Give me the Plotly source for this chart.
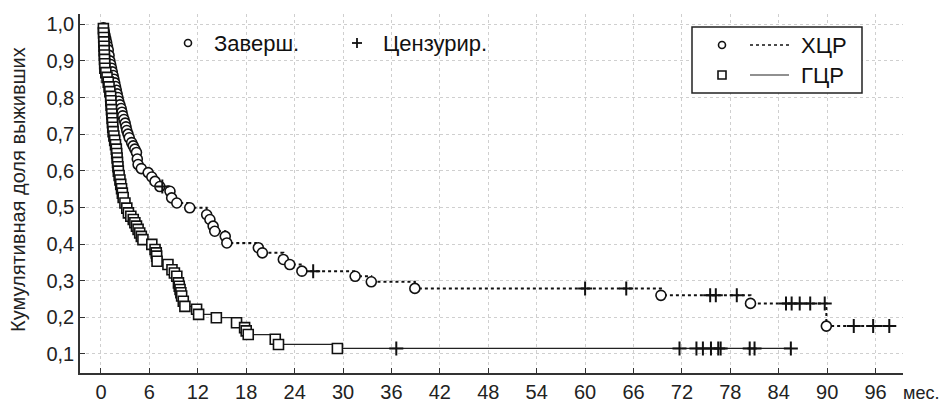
import plotly.graph_objects as go

# ---------------- data ----------------
month_ticks = list(range(0, 97, 6))
surv_ticks = [0.1, 0.2, 0.3, 0.4, 0.5, 0.6, 0.7, 0.8, 0.9, 1.0]

# ХЦР: event times (months) and survival after each event
hcr_event_t = [0.3, 0.4, 0.5, 0.6, 0.7, 0.8, 0.9, 1.0, 1.1, 1.2, 1.3, 1.4, 1.5, 1.6,
               1.7, 1.8, 1.9, 2.0, 2.1, 2.2, 2.35, 2.5, 2.6, 2.7, 2.85, 3.0, 3.1, 3.2,
               3.35, 3.5, 3.8, 4.0, 4.2, 4.4, 4.5, 4.6, 5.0, 5.85, 6.3, 6.7, 7.3, 8.55,
               8.76, 9.4, 11.0, 13.1, 13.5, 13.9, 14.1, 15.4, 15.6, 19.5, 20.0, 22.6,
               23.4, 24.9, 31.5, 33.5, 38.9, 69.4, 80.5, 89.9]
hcr_event_s = [0.99, 0.98, 0.97, 0.96, 0.95, 0.94, 0.93, 0.915, 0.90, 0.89, 0.88, 0.87,
               0.86, 0.85, 0.84, 0.83, 0.82, 0.81, 0.80, 0.79, 0.78, 0.77, 0.76, 0.75,
               0.74, 0.73, 0.72, 0.71, 0.70, 0.69, 0.677, 0.668, 0.659, 0.65, 0.632,
               0.617, 0.606, 0.595, 0.583, 0.571, 0.557, 0.544, 0.526, 0.512, 0.499,
               0.48, 0.467, 0.449, 0.435, 0.421, 0.403, 0.39, 0.376, 0.358, 0.344,
               0.326, 0.312, 0.297, 0.279, 0.26, 0.238, 0.176]
hcr_cens_t = [7.6, 26.3, 60.0, 65.1, 75.5, 76.2, 78.8, 84.9, 85.6, 86.6, 87.9, 89.7,
              93.3, 95.7, 97.7]

# ГЦР
gcr_event_t = [0.30, 0.32, 0.34, 0.36, 0.38, 0.40, 0.42, 0.44, 0.46, 0.48, 0.60, 0.75,
               0.90, 1.00, 1.10, 1.20, 1.22, 1.26, 1.30, 1.34, 1.38, 1.42, 1.46, 1.50,
               1.60, 1.70, 1.80, 1.90, 1.95, 2.00, 2.05, 2.10, 2.15, 2.25, 2.35, 2.45,
               2.55, 2.65, 2.75, 2.97, 3.2, 3.4, 3.7, 4.0, 4.2, 4.4, 4.6, 4.8, 5.0, 5.2,
               6.3, 6.7, 6.85, 6.9, 6.95, 8.3, 8.8, 9.1, 9.4, 9.6, 9.7, 9.8, 9.9, 10.0,
               10.2, 10.4, 11.85, 12.1, 14.3, 16.8, 17.8, 18.0, 18.25, 21.6, 22.0, 29.3]
gcr_event_s = [0.988, 0.976, 0.964, 0.952, 0.940, 0.928, 0.916, 0.904, 0.892, 0.880,
               0.868, 0.855, 0.842, 0.829, 0.816, 0.803, 0.791, 0.779, 0.767, 0.755,
               0.743, 0.731, 0.719, 0.707, 0.695, 0.683, 0.671, 0.659, 0.647, 0.635,
               0.623, 0.611, 0.599, 0.587, 0.575, 0.563, 0.551, 0.539, 0.527, 0.512,
               0.498, 0.485, 0.476, 0.467, 0.458, 0.449, 0.44, 0.43, 0.421, 0.412,
               0.399, 0.385, 0.376, 0.367, 0.353, 0.344, 0.33, 0.321, 0.312, 0.294,
               0.285, 0.276, 0.267, 0.258, 0.244, 0.23, 0.222, 0.208, 0.199, 0.185,
               0.172, 0.163, 0.153, 0.14, 0.126, 0.115]
gcr_cens_t = [36.6, 71.7, 73.8, 74.6, 75.6, 76.5, 76.8, 80.4, 81.0, 85.5]

series_names = ["ХЦР", "ГЦР"]
legend_marks = ["Заверш.", "Цензурир."]
y_title = "Кумулятивная доля выживших"
x_unit = "мес."


def step_value(t, ev_t, ev_s):
    s = 1.0
    for a, b in zip(ev_t, ev_s):
        if a <= t:
            s = b
    return s


def step_path(ev_t, ev_s, cens_t):
    end = max(cens_t + ev_t)
    return [0.0] + ev_t + [end], [1.0] + ev_s + [ev_s[-1]]


FONT = "Liberation Sans, Arial, sans-serif"
fig = go.Figure()

hx, hy = step_path(hcr_event_t, hcr_event_s, hcr_cens_t)
gx, gy = step_path(gcr_event_t, gcr_event_s, gcr_cens_t)

fig.add_trace(go.Scatter(x=hx, y=hy, mode="lines", line_shape="hv",
                         line=dict(color="#111", width=2, dash="dot"), showlegend=False))
fig.add_trace(go.Scatter(x=gx, y=gy, mode="lines", line_shape="hv",
                         line=dict(color="#222", width=1.2), showlegend=False))
fig.add_trace(go.Scatter(x=hcr_event_t, y=hcr_event_s, mode="markers",
                         marker=dict(symbol="circle", size=10, color="white",
                                     line=dict(color="#111", width=1.6)),
                         showlegend=False))
fig.add_trace(go.Scatter(x=gcr_event_t, y=gcr_event_s, mode="markers",
                         marker=dict(symbol="square", size=10, color="white",
                                     line=dict(color="#111", width=1.6)),
                         showlegend=False))
fig.add_trace(go.Scatter(x=hcr_cens_t,
                         y=[step_value(t, hcr_event_t, hcr_event_s) for t in hcr_cens_t],
                         mode="markers",
                         marker=dict(symbol="cross-thin", size=10,
                                     line=dict(color="#111", width=2)),
                         showlegend=False))
fig.add_trace(go.Scatter(x=gcr_cens_t,
                         y=[step_value(t, gcr_event_t, gcr_event_s) for t in gcr_cens_t],
                         mode="markers",
                         marker=dict(symbol="cross-thin", size=10,
                                     line=dict(color="#111", width=2)),
                         showlegend=False))

# -------- layout geometry (pixels -> paper) --------
W, H = 944, 405
L, R, T, B = 80, 41, 14, 32
PW, PH = W - L - R, H - T - B


def px(x):
    return (x - L) / PW


def py(y):
    return (H - B - y) / PH


shapes = []
annotations = []

# top marker legend
shapes.append(dict(type="circle", xref="paper", yref="paper", xsizemode="pixel",
                   ysizemode="pixel", xanchor=px(188), yanchor=py(43),
                   x0=-3.5, x1=3.5, y0=-3.5, y1=3.5, line=dict(color="#111", width=1.6)))
annotations.append(dict(x=px(212), y=py(43), xref="paper", yref="paper", text=legend_marks[0],
                        showarrow=False, xanchor="left", yanchor="middle",
                        font=dict(size=22, color="#111", family=FONT)))
shapes.append(dict(type="line", xref="paper", yref="paper", xsizemode="pixel",
                   ysizemode="pixel", xanchor=px(357), yanchor=py(43),
                   x0=-5, x1=5, y0=0, y1=0, line=dict(color="#111", width=1.8)))
shapes.append(dict(type="line", xref="paper", yref="paper", xsizemode="pixel",
                   ysizemode="pixel", xanchor=px(357), yanchor=py(43),
                   x0=0, x1=0, y0=-5, y1=5, line=dict(color="#111", width=1.8)))
annotations.append(dict(x=px(381), y=py(43), xref="paper", yref="paper", text=legend_marks[1],
                        showarrow=False, xanchor="left", yanchor="middle",
                        font=dict(size=22, color="#111", family=FONT)))

# boxed series legend
shapes.append(dict(type="rect", xref="paper", yref="paper", x0=px(692), x1=px(862),
                   y0=py(93), y1=py(27), line=dict(color="#222", width=1.5),
                   fillcolor="white", layer="above"))
rows = [45, 75]
shapes.append(dict(type="circle", xref="paper", yref="paper", xsizemode="pixel",
                   ysizemode="pixel", xanchor=px(722), yanchor=py(rows[0]),
                   x0=-3.5, x1=3.5, y0=-3.5, y1=3.5, line=dict(color="#111", width=1.6)))
shapes.append(dict(type="rect", xref="paper", yref="paper", xsizemode="pixel",
                   ysizemode="pixel", xanchor=px(722), yanchor=py(rows[1]),
                   x0=-4, x1=4, y0=-4, y1=4, line=dict(color="#111", width=1.6)))
shapes.append(dict(type="line", xref="paper", yref="paper", x0=px(750), x1=px(789),
                   y0=py(rows[0]), y1=py(rows[0]), line=dict(color="#111", width=1.6, dash="dot")))
shapes.append(dict(type="line", xref="paper", yref="paper", x0=px(750), x1=px(789),
                   y0=py(rows[1]), y1=py(rows[1]), line=dict(color="#222", width=1.2)))
for r, name in zip(rows, series_names):
    annotations.append(dict(x=px(799), y=py(r), xref="paper", yref="paper", text=name,
                            showarrow=False, xanchor="left", yanchor="middle",
                            font=dict(size=22, color="#111", family=FONT)))

# x unit label
annotations.append(dict(x=px(941), y=py(393), xref="paper", yref="paper", text=x_unit,
                        showarrow=False, xanchor="right", yanchor="middle",
                        font=dict(size=18, color="#222", family=FONT)))
# y axis title
annotations.append(dict(x=px(18), y=py(190), xref="paper", yref="paper", text=y_title,
                        showarrow=False, xanchor="center", yanchor="middle", textangle=-90,
                        font=dict(size=20, color="#222", family=FONT)))

fig.update_layout(
    width=W, height=H,
    margin=dict(l=L, r=R, t=T, b=B, pad=0, autoexpand=False),
    paper_bgcolor="white", plot_bgcolor="white",
    separators=", ",
    font=dict(family=FONT, color="#222"),
    shapes=shapes, annotations=annotations,
    hovermode=False,
    xaxis=dict(range=[-2.6, 99.4], tickvals=month_ticks, ticks="inside", ticklen=5,
               tickcolor="#333", showline=True, linecolor="#333", linewidth=1.5,
               showgrid=True, gridcolor="#cfcfcf", griddash="dot", gridwidth=1,
               zeroline=False, tickfont=dict(size=20, color="#222"), mirror=False,
               automargin=False),
    yaxis=dict(range=[0.048, 1.028], tickvals=surv_ticks, tickformat=".1f",
               ticks="inside", ticklen=5, tickcolor="#333",
               showline=True, linecolor="#333", linewidth=1.5,
               showgrid=True, gridcolor="#cfcfcf", griddash="dot", gridwidth=1,
               zeroline=False, tickfont=dict(size=20, color="#222"), automargin=False),
)

fig.write_html("out.html", config={"displayModeBar": False},
               post_script="document.body.style.margin='0';document.body.style.overflow='hidden';")
